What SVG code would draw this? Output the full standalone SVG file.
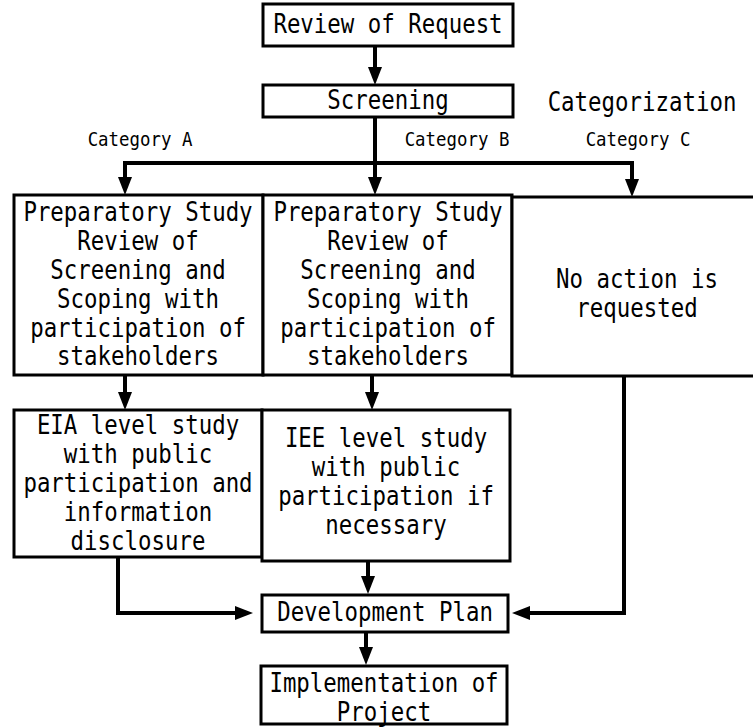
<svg xmlns="http://www.w3.org/2000/svg" width="753" height="728" viewBox="0 0 753 728">
<style>
.box{fill:#fff;stroke:#000;stroke-width:3}
.t{font-family:"DejaVu Sans Mono","Liberation Mono",monospace;font-size:22.4px;fill:#000;text-anchor:middle}
.s{font-family:"DejaVu Sans Mono","Liberation Mono",monospace;font-size:17.4px;fill:#000;text-anchor:middle}
.c{fill:none;stroke:#000;stroke-width:4}
</style>
<defs>
<marker id="ah" viewBox="0 0 18 14" refX="12" refY="7" markerWidth="18" markerHeight="14" markerUnits="userSpaceOnUse" orient="auto">
<path d="M0,0 L18,7 L0,14 z" fill="#000"/>
</marker>
</defs>
<rect width="753" height="728" fill="#fff"/>
<g id="connectors">
<path class="c" d="M375,46 V79" marker-end="url(#ah)"/>
<path class="c" d="M375,117 V189" marker-end="url(#ah)"/>
<path class="c" d="M375,163 H125 V189" marker-end="url(#ah)"/>
<path class="c" d="M375,163 H632 V191" marker-end="url(#ah)"/>
<path class="c" d="M125,376 V404" marker-end="url(#ah)"/>
<path class="c" d="M372,376 V404" marker-end="url(#ah)"/>
<path class="c" d="M118,557 V613 H247" marker-end="url(#ah)"/>
<path class="c" d="M368,561 V588" marker-end="url(#ah)"/>
<path class="c" d="M624,377 V613 H518" marker-end="url(#ah)"/>
<path class="c" d="M366,633 V659" marker-end="url(#ah)"/>
</g>
<g id="review">
<rect class="box" x="263" y="4" width="250" height="42"/>
<text class="t" transform="translate(388,25) scale(1,1.2)"><tspan x="0" y="7">Review of Request</tspan></text>
</g>
<g id="screening">
<rect class="box" x="263" y="85" width="250" height="32"/>
<text class="t" transform="translate(388,101) scale(1,1.2)"><tspan x="0" y="7">Screening</tspan></text>
</g>
<g id="categorization">
<text class="t" transform="translate(642,103) scale(1,1.2)"><tspan x="0" y="7">Categorization</tspan></text>
</g>
<g id="labels">
<text class="s" transform="translate(140,139) scale(1,1.15)"><tspan x="0" y="6">Category A</tspan></text>
<text class="s" transform="translate(457,139) scale(1,1.15)"><tspan x="0" y="6">Category B</tspan></text>
<text class="s" transform="translate(638,139) scale(1,1.15)"><tspan x="0" y="6">Category C</tspan></text>
</g>
<g id="prepA">
<rect class="box" x="14" y="195" width="249" height="180"/>
<text class="t" transform="translate(138,213) scale(1,1.2)"><tspan x="0" y="7">Preparatory Study</tspan><tspan x="0" dy="24">Review of</tspan><tspan x="0" dy="24">Screening and</tspan><tspan x="0" dy="24">Scoping with</tspan><tspan x="0" dy="24">participation of</tspan><tspan x="0" dy="24">stakeholders</tspan></text>
</g>
<g id="prepB">
<rect class="box" x="263" y="195" width="249" height="180"/>
<text class="t" transform="translate(388,213) scale(1,1.2)"><tspan x="0" y="7">Preparatory Study</tspan><tspan x="0" dy="24">Review of</tspan><tspan x="0" dy="24">Screening and</tspan><tspan x="0" dy="24">Scoping with</tspan><tspan x="0" dy="24">participation of</tspan><tspan x="0" dy="24">stakeholders</tspan></text>
</g>
<g id="noaction">
<rect class="box" x="512" y="197" width="260" height="179"/>
<text class="t" transform="translate(637,280) scale(1,1.2)"><tspan x="0" y="7">No action is</tspan><tspan x="0" dy="24">requested</tspan></text>
</g>
<g id="eia">
<rect class="box" x="14" y="410" width="248" height="147"/>
<text class="t" transform="translate(138,426) scale(1,1.2)"><tspan x="0" y="7">EIA level study</tspan><tspan x="0" dy="24">with public</tspan><tspan x="0" dy="24">participation and</tspan><tspan x="0" dy="24">information</tspan><tspan x="0" dy="24">disclosure</tspan></text>
</g>
<g id="iee">
<rect class="box" x="262" y="410" width="248" height="151"/>
<text class="t" transform="translate(386,439) scale(1,1.2)"><tspan x="0" y="7">IEE level study</tspan><tspan x="0" dy="24">with public</tspan><tspan x="0" dy="24">participation if</tspan><tspan x="0" dy="24">necessary</tspan></text>
</g>
<g id="devplan">
<rect class="box" x="262" y="595" width="246" height="37"/>
<text class="t" transform="translate(385,613) scale(1,1.2)"><tspan x="0" y="7">Development Plan</tspan></text>
</g>
<g id="impl">
<rect class="box" x="261" y="666" width="246" height="58"/>
<text class="t" transform="translate(384,684) scale(1,1.2)"><tspan x="0" y="7">Implementation of</tspan><tspan x="0" dy="24">Project</tspan></text>
</g>
</svg>
